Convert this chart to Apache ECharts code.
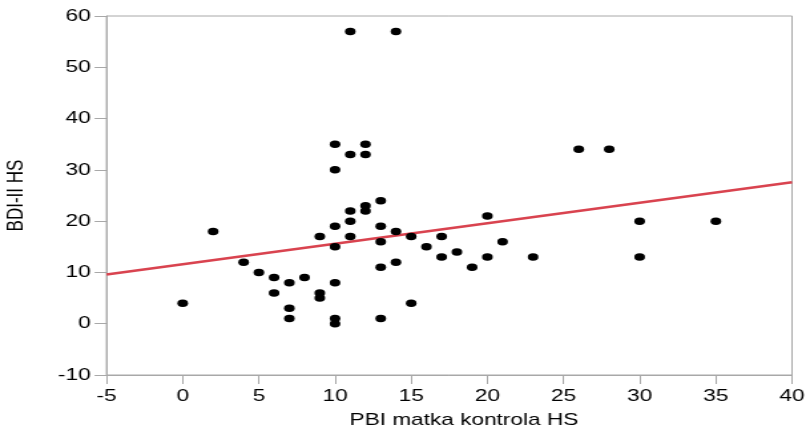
<!DOCTYPE html>
<html>
<head>
<meta charset="utf-8">
<script src="https://cdn.jsdelivr.net/npm/echarts@6/dist/echarts.min.js"></script>
<style>
  html, body { margin: 0; padding: 0; background: #fff; overflow: hidden; }
  #wrap { width: 810px; height: 433px; overflow: hidden; }
  /* the chart is drawn narrower and widened horizontally, giving its wide glyphs and oval dots */
  #chart { width: 609px; height: 433px; transform: scaleX(1.33); transform-origin: 0 0; }
</style>
</head>
<body>
<div id="wrap"><div id="chart"></div></div>
<script>
// PBI (mother, control) vs BDI-II scores
const pbiX = [0, 2, 4, 5, 6, 6, 7, 7, 7, 8, 9, 9, 9,
  10, 10, 10, 10, 10, 10, 10, 11, 11, 11, 11, 11,
  12, 12, 12, 12, 13, 13, 13, 13, 13, 14, 14, 14,
  15, 15, 16, 17, 17, 18, 19, 20, 20, 21, 23, 26, 28, 30, 30, 35];
const bdiY = [4, 18, 12, 10, 9, 6, 8, 3, 1, 9, 17, 6, 5,
  35, 30, 19, 15, 8, 1, 0, 57, 33, 22, 20, 17,
  35, 33, 23, 22, 24, 19, 16, 11, 1, 57, 18, 12,
  17, 4, 15, 17, 13, 14, 11, 21, 13, 16, 13, 34, 34, 20, 13, 20];

// linear fit drawn across the whole x range
const fitX = [-5, 40];
const fitY = [9.6, 27.6];

// axis ranges and tick steps
const xRange = { min: -5, max: 40, step: 5 };
const yRange = { min: -10, max: 60, step: 10 };

const xName = 'PBI matka kontrola HS';
const yName = 'BDI-II HS';

const font = 'Liberation Sans, Arial, sans-serif';
const axisGrey = '#a8a8a8';

const chart = echarts.init(document.getElementById('chart'), null, { renderer: 'canvas' });

chart.setOption({
  animation: false,
  backgroundColor: '#fff',
  grid: {
    left: 80.1, right: 13.5, top: 16, bottom: 58,
    outerBoundsMode: 'none',
    show: true, borderColor: axisGrey, borderWidth: 1
  },
  xAxis: {
    type: 'value',
    min: xRange.min, max: xRange.max, interval: xRange.step,
    name: xName, nameLocation: 'middle', nameGap: 37,
    nameTextStyle: { fontFamily: font, fontSize: 17, color: '#000', padding: [0, 0, 0, 22] },
    axisLine: { show: true, onZero: false, lineStyle: { color: axisGrey, width: 1 } },
    axisTick: { show: true, length: 9, lineStyle: { color: axisGrey } },
    axisLabel: { fontFamily: font, fontSize: 17, color: '#000', margin: 13 },
    splitLine: { show: false }
  },
  yAxis: {
    type: 'value',
    min: yRange.min, max: yRange.max, interval: yRange.step,
    name: yName, nameLocation: 'middle', nameGap: 59, nameRotate: 90,
    nameTextStyle: { fontFamily: font, fontSize: 17, color: '#000' },
    axisLine: { show: true, onZero: false, lineStyle: { color: axisGrey, width: 1 } },
    axisTick: { show: true, length: 9, lineStyle: { color: axisGrey } },
    axisLabel: { fontFamily: font, fontSize: 17, color: '#000', margin: 12 },
    splitLine: { show: false }
  },
  series: [
    {
      type: 'line',
      data: fitX.map((x, i) => [x, fitY[i]]),
      symbol: 'none',
      lineStyle: { color: '#d9434f', width: 2.5 },
      z: 2
    },
    {
      type: 'scatter',
      data: pbiX.map((x, i) => [x, bdiY[i]]),
      symbol: 'circle',
      symbolSize: [8, 7.5],
      itemStyle: { color: '#000', opacity: 1 },
      z: 3
    }
  ]
});
</script>
</body>
</html>
